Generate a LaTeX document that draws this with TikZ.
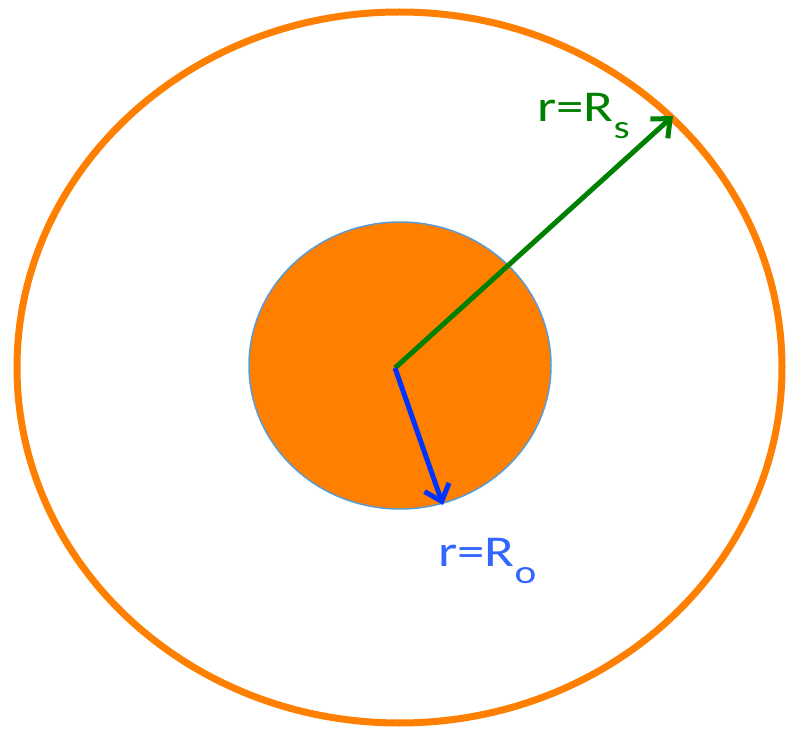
\documentclass[tikz,border=0pt]{standalone}
\usepackage{fontspec}
\setmainfont{Carlito}
\usetikzlibrary{arrows.meta}
\definecolor{shellorange}{RGB}{255,127,0}
\definecolor{edgeblue}{RGB}{91,155,213}
\definecolor{rsgreen}{RGB}{0,128,0}
\definecolor{roblue}{RGB}{0,51,255}
\definecolor{rolabel}{RGB}{51,102,255}
\newcommand{\lowsub}[1]{\raisebox{-17pt}{\fontsize{33}{36}\selectfont #1}}

\begin{document}
\begin{tikzpicture}[x=1pt,y=-1pt,
    radius/.style={line width=5pt, -{Straight Barb[length=15pt,width=26pt,line width=5pt]}},
    lbl/.style={font=\fontsize{44}{50}\selectfont, inner sep=0pt, anchor=base west, xscale=1.25}]
            \useasboundingbox (0,0) rectangle (788,730);
            \coordinate (O) at (395,368);
            \coordinate (S) at (673,116);
            \coordinate (I) at (443,505);
            % outer boundary and core
            \draw[shellorange, line width=7pt] (399.5,367.5) ellipse [x radius=382.5, y radius=355.5];
            \draw[edgeblue, fill=shellorange, line width=1.5pt] (400,365.5) ellipse [x radius=151, y radius=143.5];
            % radii
            \draw[rsgreen, radius] (O) -- (S);
            \draw[roblue, radius] (O) -- (I);
            \node[lbl, text=rsgreen] (Rs) at (537,122) {r=R\lowsub{s}};
            \node[lbl, text=rolabel] (Ro) at (438,566) {r=R\lowsub{o}};
        \end{tikzpicture}
\end{document}
